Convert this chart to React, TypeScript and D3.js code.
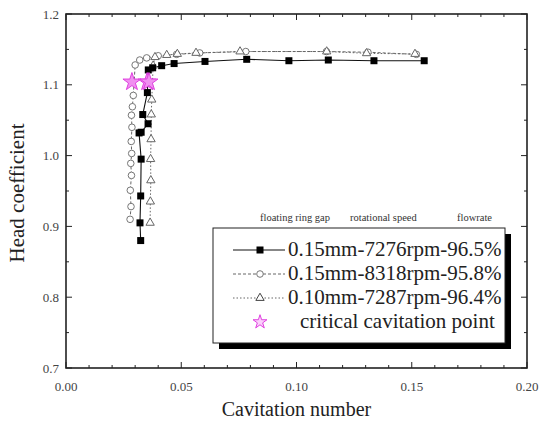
import React from 'react';
import * as d3 from 'd3';

// series 1: 0.15mm-7276rpm-96.5% (filled squares, solid)
const s1X = [0.0324, 0.0321, 0.0324, 0.0326, 0.0317, 0.0326, 0.0356, 0.0333, 0.0353, 0.0357, 0.0376, 0.0415, 0.0469, 0.0603, 0.0784, 0.0967, 0.1138, 0.1336, 0.1554];
const s1Y = [0.880, 0.905, 0.943, 0.995, 1.032, 1.033, 1.045, 1.058, 1.089, 1.121, 1.124, 1.127, 1.130, 1.133, 1.136, 1.134, 1.135, 1.134, 1.134];

// series 2: 0.15mm-8318rpm-95.8% (open circles, dashed)
const s2X = [0.0278, 0.0282, 0.0279, 0.0284, 0.0281, 0.0285, 0.0283, 0.0286, 0.0284, 0.0288, 0.0292, 0.0300, 0.0320, 0.0350, 0.0400, 0.0480, 0.0580, 0.0780, 0.1130, 0.1310, 0.1520];
const s2Y = [0.910, 0.928, 0.951, 0.972, 0.989, 1.003, 1.020, 1.040, 1.057, 1.069, 1.085, 1.128, 1.135, 1.138, 1.141, 1.143, 1.145, 1.147, 1.147, 1.146, 1.143];

// series 3: 0.10mm-7287rpm-96.4% (open triangles, dotted)
const s3X = [0.0365, 0.0366, 0.0368, 0.0367, 0.0369, 0.0370, 0.0372, 0.0378, 0.0386, 0.0437, 0.0483, 0.0564, 0.0755, 0.1131, 0.1304, 0.1514];
const s3Y = [0.905, 0.935, 0.965, 0.995, 1.023, 1.058, 1.079, 1.127, 1.139, 1.142, 1.1435, 1.145, 1.147, 1.147, 1.1445, 1.1435];

// critical cavitation points
const starX = [0.0286, 0.0352, 0.0360];
const starY = [1.104, 1.104, 1.104];

const xTicks = [0, 0.05, 0.1, 0.15, 0.2];
const xTickLabels = ['0.00', '0.05', '0.10', '0.15', '0.20'];
const yTicks = [0.7, 0.8, 0.9, 1.0, 1.1, 1.2];
const yTickLabels = ['0.7', '0.8', '0.9', '1.0', '1.1', '1.2'];

const legendLabels = ['0.15mm-7276rpm-96.5%', '0.15mm-8318rpm-95.8%', '0.10mm-7287rpm-96.4%', 'critical cavitation point'];
const legendHeader = ['floating ring gap', 'rotational speed', 'flowrate'];

const W = 545;
const H = 425;
const m = { left: 66, right: 527, top: 14, bottom: 368 };
const serif = '"Liberation Serif", "DejaVu Serif", serif';

export default function App() {
  const x = d3.scaleLinear().domain([0, 0.2]).range([m.left, m.right]);
  const y = d3.scaleLinear().domain([0.7, 1.2]).range([m.bottom, m.top]);

  const line = d3.line<[number, number]>().x(d => x(d[0])).y(d => y(d[1]));
  const zip = (a: number[], b: number[]) => a.map((v, i) => [v, b[i]] as [number, number]);
  const s1 = zip(s1X, s1Y);
  const s2 = zip(s2X, s2Y);
  const s3 = zip(s3X, s3Y);
  const stars = zip(starX, starY);

  const tri = d3.symbol().type(d3.symbolTriangle).size(30)() as string;
  const star = d3.symbol().type(d3.symbolStar).size(100)() as string;
  const starSmall = d3.symbol().type(d3.symbolStar).size(60)() as string;

  const xMinor = d3.range(0, 0.2001, 0.01);
  const yMinor = d3.range(0.7, 1.2001, 0.05);

  const axisColor = '#222';
  const tickColor = '#444';

  const sq = (cx: number, cy: number, k: string | number) => (
    <rect key={k} x={cx - 3.5} y={cy - 3.5} width={7} height={7} fill="#000" />
  );

  // legend geometry
  const lg = { x: 213, y: 228, w: 292, h: 115 };
  const rowY = [250, 274, 298, 322];
  const sampleX0 = 233, sampleX1 = 285, sampleMid = 260, textX = 288;
  const headerX = [260, 350, 457];

  return (
    <div style={{ position: 'fixed', left: 0, top: 0 }}>
      <svg width={W} height={H} style={{ display: 'block', background: '#fff' }}>
        {/* minor & major ticks, inward on all sides */}
        {xMinor.map((v, i) => {
          const len = i % 5 === 0 ? 6 : 3;
          return (
            <g key={'xt' + i} stroke={axisColor} strokeWidth={1}>
              <line x1={x(v)} x2={x(v)} y1={m.bottom} y2={m.bottom - len} />
              <line x1={x(v)} x2={x(v)} y1={m.top} y2={m.top + len} />
            </g>
          );
        })}
        {yMinor.map((v, i) => {
          const len = i % 2 === 0 ? 6 : 3;
          return (
            <g key={'yt' + i} stroke={axisColor} strokeWidth={1}>
              <line x1={m.left} x2={m.left + len} y1={y(v)} y2={y(v)} />
              <line x1={m.right} x2={m.right - len} y1={y(v)} y2={y(v)} />
            </g>
          );
        })}
        <rect x={m.left} y={m.top} width={m.right - m.left} height={m.bottom - m.top} fill="none" stroke={axisColor} strokeWidth={1.6} />

        {/* tick labels */}
        {xTicks.map((v, i) => (
          <text key={'xl' + i} x={x(v)} y={391} textAnchor="middle" fontFamily={serif} fontSize={13} fill={tickColor}>{xTickLabels[i]}</text>
        ))}
        {yTicks.map((v, i) => (
          <text key={'yl' + i} x={59} y={y(v) + 4.5} textAnchor="end" fontFamily={serif} fontSize={13} fill={tickColor}>{yTickLabels[i]}</text>
        ))}

        {/* axis titles */}
        <text x={x(0.1)} y={416} textAnchor="middle" fontFamily={serif} fontSize={20} fill="#222">Cavitation number</text>
        <text transform={`translate(24, ${(m.top + m.bottom) / 2 + 2}) rotate(-90)`} textAnchor="middle" fontFamily={serif} fontSize={21} fill="#222">Head coefficient</text>

        {/* series lines */}
        <path d={line(s3) as string} fill="none" stroke="#666" strokeWidth={1} strokeDasharray="1.5,2" />
        <path d={line(s2) as string} fill="none" stroke="#666" strokeWidth={1} strokeDasharray="3,2" />
        <path d={line(s1) as string} fill="none" stroke="#111" strokeWidth={1.1} />

        {/* markers */}
        {s2.map((d, i) => (
          <circle key={'c' + i} cx={x(d[0])} cy={y(d[1])} r={3.3} fill="#fff" stroke="#777" strokeWidth={1} />
        ))}
        {s3.map((d, i) => (
          <path key={'t' + i} d={tri} transform={`translate(${x(d[0])},${y(d[1])})`} fill="#fff" stroke="#666" strokeWidth={1} />
        ))}
        {s1.map((d, i) => sq(x(d[0]), y(d[1]), 's' + i))}
        {stars.map((d, i) => (
          <path key={'st' + i} d={star} transform={`translate(${x(d[0])},${y(d[1])})`} fill="#f090f0" stroke="#e040e0" strokeWidth={1} />
        ))}

        {/* legend header */}
        {legendHeader.map((t, i) => (
          <text key={'lh' + i} x={headerX[i]} y={221} fontFamily={serif} fontSize={10.5} fill="#333">{t}</text>
        ))}

        {/* legend box with shadow */}
        <rect x={lg.x + 6} y={lg.y + 6} width={lg.w} height={lg.h} fill="#000" />
        <rect x={lg.x} y={lg.y} width={lg.w} height={lg.h} fill="#fff" stroke="#222" strokeWidth={1} />

        <line x1={sampleX0} x2={sampleX1} y1={rowY[0]} y2={rowY[0]} stroke="#111" strokeWidth={1.1} />
        {sq(sampleMid, rowY[0], 'lg1')}
        <line x1={sampleX0} x2={sampleX1} y1={rowY[1]} y2={rowY[1]} stroke="#666" strokeWidth={1} strokeDasharray="3,2" />
        <circle cx={sampleMid} cy={rowY[1]} r={3.3} fill="#fff" stroke="#777" />
        <line x1={sampleX0} x2={sampleX1} y1={rowY[2]} y2={rowY[2]} stroke="#666" strokeWidth={1} strokeDasharray="1.5,2" />
        <path d={tri} transform={`translate(${sampleMid},${rowY[2]})`} fill="#fff" stroke="#444" />
        <path d={starSmall} transform={`translate(${sampleMid},${rowY[3]})`} fill="#fbd0fb" stroke="#e040e0" />

        {legendLabels.map((t, i) => (
          <text key={'lt' + i} x={i === 3 ? 300 : textX} y={rowY[i] + 6} fontFamily={serif} fontSize={21} fill="#222">{t}</text>
        ))}
      </svg>
    </div>
  );
}
